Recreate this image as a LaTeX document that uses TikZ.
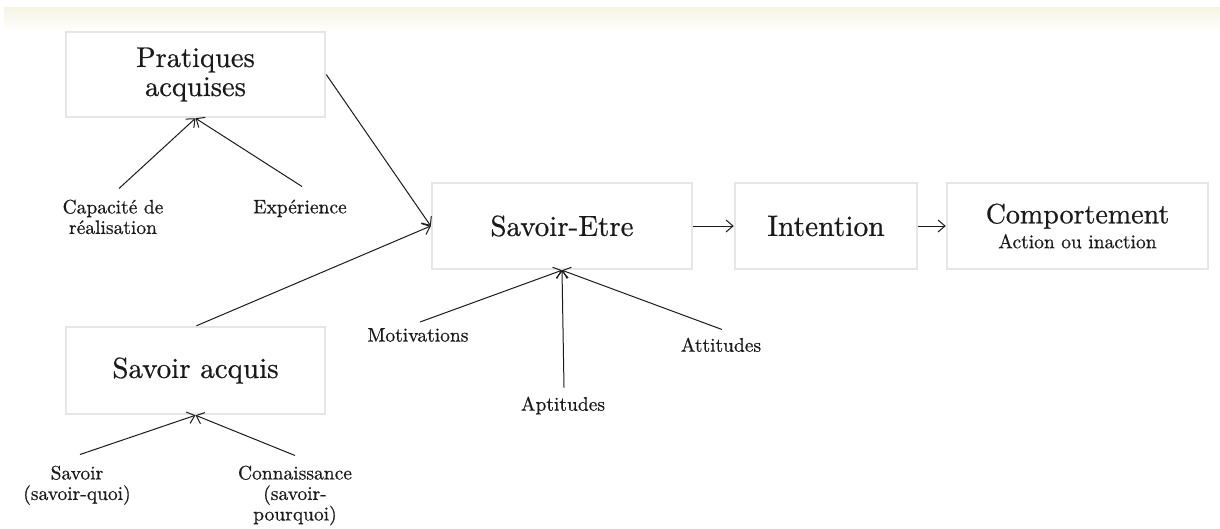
\documentclass[tikz,border=0pt]{standalone}
\usepackage{fontspec}
\setmainfont{lmroman10-regular.otf}[FakeBold=0.6]
\usetikzlibrary{arrows.meta}
\definecolor{boxline}{HTML}{E6E6E6}
\definecolor{ink}{HTML}{1A1A1A}
\definecolor{band}{HTML}{F5F4E4}
\newcommand{\bigtxt}[1]{\fontsize{#1}{29}\selectfont}
\newcommand{\smalltxt}{\fontsize{19.5}{20.5}\selectfont}
\tikzset{
  box/.style={draw=boxline, line width=2.5pt, fill=white, inner sep=0pt,
              align=center, text=ink},
  lbl/.style={inner sep=0pt, align=center, anchor=north, text=ink, font=\smalltxt},
  arr/.style={draw=ink, line width=1pt, -{Straight Barb[length=7pt,width=12pt]}}
}
\begin{document}
\begin{tikzpicture}[x=1pt,y=-1pt]
  \useasboundingbox (0,0) rectangle (1220,528);
  % pale header band
  \shade[top color=band, bottom color=white] (4,7) rectangle (1220,31);

  % main boxes
  \node[box, minimum width=259pt, minimum height=85pt, font=\bigtxt{28.5}]
       (prat) at (195.5,74.5) {Pratiques\\acquises};
  \node[box, minimum width=259pt, minimum height=87pt, font=\bigtxt{29}]
       (sacq) at (195.5,370.5) {Savoir acquis};
  \node[box, minimum width=260pt, minimum height=86pt, font=\bigtxt{29}]
       (setre) at (562,226) {Savoir-Etre};
  \node[box, minimum width=182pt, minimum height=86pt, font=\bigtxt{29.5}]
       (inten) at (826,226) {Intention};
  \node[box, minimum width=261pt, minimum height=86pt]
       (comp) at (1077.5,226) {{\fontsize{28}{25}\selectfont Comportement}\\[4.5pt]
       {\smalltxt Action ou inaction}};

  % factor labels
  \node[lbl] (capa) at (113,199.5) {Capacité de\\réalisation};
  \node[lbl] (expe) at (300,199.5) {Expérience};
  \node[lbl] (sav)  at (77,465.5)  {Savoir\\(savoir-quoi)};
  \node[lbl] (conn) at (295,465.5) {Connaissance\\(savoir-\\pourquoi)};
  \node[lbl] (moti) at (418,328)   {Motivations};
  \node[lbl] (apti) at (563,396.5) {Aptitudes};
  \node[lbl] (atti) at (721,337.5) {Attitudes};

  % influences
  \draw[arr] ([shift={(6pt,11pt)}]capa.north) -- (prat.south);
  \draw[arr] ([shift={(2pt,13pt)}]expe.north) -- (prat.south);
  \draw[arr] ([shift={(3pt,11pt)}]sav.north)  -- (sacq.south);
  \draw[arr] ([shift={(0pt,10pt)}]conn.north) -- (sacq.south);
  \draw[arr] (prat.east) -- (setre.west);
  \draw[arr] ([xshift=1pt]sacq.north) -- (setre.west);
  \draw[arr] ([shift={(2pt,6pt)}]moti.north) -- (setre.south);
  \draw[arr] ([shift={(1pt,9pt)}]apti.north) -- (setre.south);
  \draw[arr] ([shift={(1pt,8pt)}]atti.north) -- (setre.south);

  % sequence
  \draw[arr] (setre.east) -- (inten.west);
  \draw[arr] (inten.east) -- (comp.west);
\end{tikzpicture}
\end{document}
